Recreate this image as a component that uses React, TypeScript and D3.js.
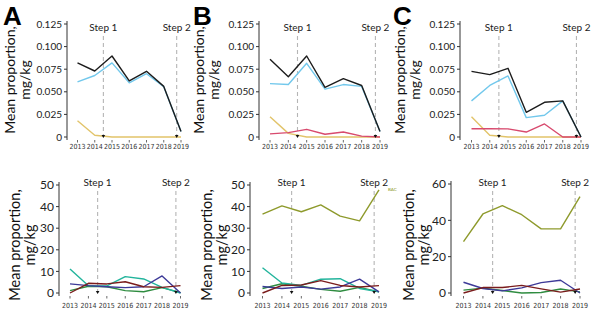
import React from "react";
import * as d3 from "d3";

const years = [2013, 2014, 2015, 2016, 2017, 2018, 2019];
const topTicks = [0, 0.025, 0.05, 0.075, 0.1, 0.125];
const topTickLabels = ["0", "0.025", "0.050", "0.075", "0.100", "0.125"];
const bottomTicksAB = [0, 10, 20, 30, 40, 50];
const bottomTicksC = [0, 20, 40, 60];
const steps = [2014.5, 2018.75];
const stepLabels = ["Step 1", "Step 2"];

// Top row
const aBlack = [0.082, 0.073, 0.0896, 0.062, 0.0727, 0.056, 0.006];
const aBlue = [0.061, 0.068, 0.082, 0.06, 0.07, 0.0557, 0.006];
const aYellow = [0.018, 0.002, 0, 0, 0, 0, 0];

const bBlack = [0.086, 0.0667, 0.0896, 0.055, 0.0645, 0.057, 0.006];
const bBlue = [0.059, 0.058, 0.0815, 0.053, 0.058, 0.056, 0.006];
const bPink = [0.0035, 0.0048, 0.0085, 0.003, 0.0055, 0.001, 0];
const bYellow = [0.0225, 0.004, 0, 0, 0, 0, 0];

const cBlack = [0.0726, 0.069, 0.076, 0.0273, 0.0384, 0.04, 0];
const cBlue = [0.04, 0.057, 0.0675, 0.0214, 0.024, 0.04, 0];
const cPink = [0.0092, 0.0092, 0.009, 0.0055, 0.0144, 0, 0];
const cYellow = [0.0225, 0.002, 0, 0, 0, 0, 0];

// Bottom row
const aTeal = [11.1, 3.4, 3.3, 7.6, 6.5, 2.6, 0];
const aNavy = [4.2, 3.4, 2.9, 2.5, 2.9, 7.9, 0];
const aDarkRed = [0, 4.5, 4.2, 5.2, 2.9, 2.6, 3.4];
const aGreen = [1.1, 3.1, 2.9, 1.1, 0.6, 2.5, 0.2];

const bOlive = [36.5, 40.3, 37.6, 40.8, 35.6, 33.4, 47.7];
const bTeal = [11.7, 4.6, 3.5, 6.4, 6.6, 2.1, 0.6];
const bNavy = [3.0, 2.1, 2.8, 1.8, 2.8, 6.4, 0.5];
const bDarkRed = [0, 3.5, 3.7, 5.7, 3.5, 2.8, 3.4];
const bGreen = [2.1, 4.3, 3.1, 1.7, 0.8, 2.6, 0.5];

const cOlive = [28.3, 43.5, 48.1, 43.1, 35.3, 35.3, 53];
const cNavy = [5.9, 2.5, 1.2, 2.8, 5.7, 7.0, 0];
const cDarkRed = [0, 3.0, 3.0, 4.2, 2.3, 0.5, 2.2];
const cGreen = [1.6, 2.7, 1.4, 0, 0.3, 2.2, 0.6];

const COL = {
  black: "#1c1c1c",
  blue: "#72c8ec",
  yellow: "#e2c46a",
  pink: "#d84a6e",
  teal: "#22b49c",
  navy: "#3d3a98",
  darkred: "#7a1c1c",
  green: "#2f8c40",
  olive: "#8e9a2c",
};

const FONT = "Lato, 'Noto Sans', sans-serif";
const NARROW = "'Liberation Sans Narrow', 'Arial Narrow', 'DejaVu Sans Condensed', sans-serif";

type Series = { values: number[]; color: string };

type PanelProps = {
  axisX: number;
  x0: number;
  x1: number;
  yTop: number;
  yBottom: number;
  yMax: number;
  ticks: number[];
  tickLabels: string[];
  series: Series[];
  tickFont: number;
  titleFont: number;
  titleX: number;
  titleY: number;
  stepLabelY: number;
  dashTop: number;
  xLabelY: number;
  letter?: string;
  letterX?: number;
  tag?: { text: string; color: string; x: number; y: number };
};

function Panel(p: PanelProps) {
  const x = d3.scaleLinear().domain([2013, 2019]).range([p.x0, p.x1]);
  const y = d3.scaleLinear().domain([0, p.yMax]).range([p.yBottom, p.yTop]);
  const line = d3
    .line<number>()
    .x((_, i) => x(years[i]))
    .y((d) => y(d));
  const axisTop = p.yTop - 3;
  const axisBottom = p.yBottom + 3;
  return (
    <g>
      {p.letter && (
        <text
          x={p.letterX}
          y={25}
          fontFamily="'Liberation Sans', Arial, sans-serif"
          fontWeight="bold"
          fontSize={26}
          fill="#000"
        >
          {p.letter}
        </text>
      )}
      <text
        transform={`translate(${p.titleX},${p.titleY}) rotate(-90)`}
        textAnchor="middle"
        fontFamily={FONT}
        fontSize={p.titleFont}
        fill="#111"
      >
        <tspan x={0} dy={0}>
          Mean proportion,
        </tspan>
        <tspan x={0} dy={15}>
          mg/kg
        </tspan>
      </text>
      {/* y axis */}
      <line x1={p.axisX} x2={p.axisX} y1={axisTop} y2={axisBottom} stroke="#333" strokeWidth={1} />
      {p.ticks.map((t, i) => (
        <g key={i}>
          <line x1={p.axisX - 3} x2={p.axisX} y1={y(t)} y2={y(t)} stroke="#333" />
          <text
            x={p.axisX - 5}
            y={y(t)}
            dy="0.35em"
            textAnchor="end"
            fontFamily={FONT}
            fontSize={p.tickFont}
            fill="#222"
          >
            {p.tickLabels[i]}
          </text>
        </g>
      ))}
      {/* x ticks */}
      {years.map((yr) => (
        <g key={yr}>
          <line x1={x(yr)} x2={x(yr)} y1={axisBottom} y2={axisBottom + 2.5} stroke="#444" strokeWidth={0.8} />
          <text
            x={x(yr)}
            y={p.xLabelY}
            textAnchor="middle"
            fontFamily={NARROW}
            fontSize={7}
            fill="#333"
          >
            {yr}
          </text>
        </g>
      ))}
      {/* steps */}
      {steps.map((s, i) => (
        <g key={i}>
          <line
            x1={x(s)}
            x2={x(s)}
            y1={p.dashTop}
            y2={p.yBottom}
            stroke="#b5b5b5"
            strokeWidth={1.1}
            strokeDasharray="4,3"
          />
          <text
            x={x(s)}
            y={p.stepLabelY}
            textAnchor="middle"
            fontFamily={FONT}
            fontSize={10}
            fill="#222"
          >
            {stepLabels[i]}
          </text>
        </g>
      ))}
      {/* lines */}
      {p.series.map((s, i) => (
        <path key={i} d={line(s.values) || ""} fill="none" stroke={s.color} strokeWidth={1.4} strokeLinejoin="round" />
      ))}
      {/* step markers */}
      {steps.map((s, i) => (
        <path
          key={"m" + i}
          d={`M${x(s) - 1.8},${p.yBottom - 2} L${x(s) + 1.8},${p.yBottom - 2} L${x(s)},${p.yBottom + 1} Z`}
          fill="#111"
        />
      ))}
      {p.tag && (
        <text x={p.tag.x} y={p.tag.y} fontFamily={FONT} fontSize={4.5} fill={p.tag.color}>
          {p.tag.text}
        </text>
      )}
    </g>
  );
}

export default function App() {
  const topCommon = {
    yTop: 24,
    yBottom: 137,
    yMax: 0.125,
    ticks: topTicks,
    tickLabels: topTickLabels,
    tickFont: 10,
    titleFont: 14,
    titleY: 80,
    stepLabelY: 30.5,
    dashTop: 36,
    xLabelY: 148.5,
  };
  const botCommon = {
    yTop: 185,
    yBottom: 293,
    tickFont: 12,
    titleFont: 14.5,
    titleY: 245,
    stepLabelY: 185.5,
    dashTop: 191,
    xLabelY: 308,
  };
  return (
    <svg
      width={600}
      height={314}
      style={{ position: "absolute", left: 0, top: 0, background: "#fff" }}
    >
      <rect width={600} height={314} fill="#fff" />
      <Panel
        {...topCommon}
        axisX={67}
        x0={77.5}
        x1={181}
        titleX={15}
        letter="A"
        letterX={3}
        series={[
          { values: aYellow, color: COL.yellow },
          { values: aBlue, color: COL.blue },
          { values: aBlack, color: COL.black },
        ]}
      />
      <Panel
        {...topCommon}
        axisX={259}
        x0={270}
        x1={380}
        titleX={204}
        letter="B"
        letterX={193}
        series={[
          { values: bYellow, color: COL.yellow },
          { values: bPink, color: COL.pink },
          { values: bBlue, color: COL.blue },
          { values: bBlack, color: COL.black },
        ]}
      />
      <Panel
        {...topCommon}
        axisX={460}
        x0={471.5}
        x1={581}
        titleX={405}
        letter="C"
        letterX={393}
        series={[
          { values: cYellow, color: COL.yellow },
          { values: cPink, color: COL.pink },
          { values: cBlue, color: COL.blue },
          { values: cBlack, color: COL.black },
        ]}
      />
      <Panel
        {...botCommon}
        yMax={50}
        ticks={bottomTicksAB}
        tickLabels={bottomTicksAB.map(String)}
        axisX={59}
        x0={70}
        x1={180.5}
        titleX={20}
        series={[
          { values: aGreen, color: COL.green },
          { values: aTeal, color: COL.teal },
          { values: aNavy, color: COL.navy },
          { values: aDarkRed, color: COL.darkred },
        ]}
      />
      <Panel
        {...botCommon}
        yMax={50}
        ticks={bottomTicksAB}
        tickLabels={bottomTicksAB.map(String)}
        axisX={250}
        x0={262.5}
        x1={379}
        titleX={212}
        tag={{ text: "BAC", color: COL.olive, x: 388, y: 190.5 }}
        series={[
          { values: bOlive, color: COL.olive },
          { values: bGreen, color: COL.green },
          { values: bTeal, color: COL.teal },
          { values: bNavy, color: COL.navy },
          { values: bDarkRed, color: COL.darkred },
        ]}
      />
      <Panel
        {...botCommon}
        yMax={60}
        yTop={184}
        ticks={bottomTicksC}
        tickLabels={bottomTicksC.map(String)}
        axisX={451}
        x0={463.5}
        x1={580}
        titleX={414}
        series={[
          { values: cOlive, color: COL.olive },
          { values: cGreen, color: COL.green },
          { values: cNavy, color: COL.navy },
          { values: cDarkRed, color: COL.darkred },
        ]}
      />
    </svg>
  );
}
